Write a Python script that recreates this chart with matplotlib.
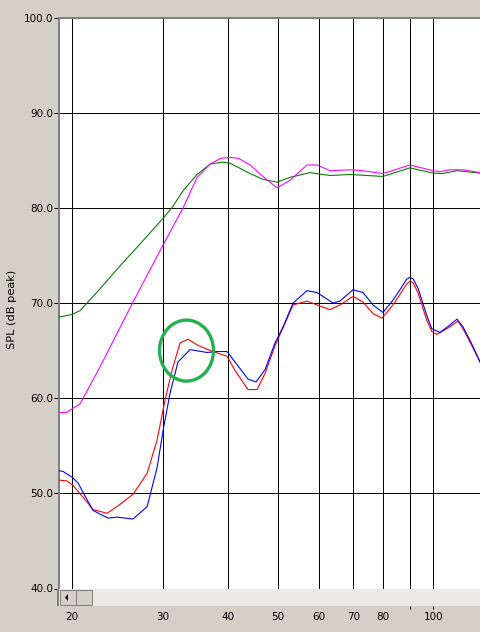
"""
SPL sweep screenshot recreation: four response curves on a log-frequency grid.
"""
import matplotlib
matplotlib.use("Agg")
import matplotlib.pyplot as plt
from matplotlib.patches import Ellipse, Rectangle, Polygon
from matplotlib.transforms import IdentityTransform, blended_transform_factory

plt.rcParams["font.family"] = ["DejaVu Sans"]

# ---- data (Hz, dB peak) ----
green_f = [18.79, 20.0, 20.73, 21.38, 22.66, 24.77, 27.07, 30.0, 31.2, 32.8, 34.9,
           37.0, 39.0, 40.4, 44.2, 46.8, 49.85, 52.8, 57.7, 63.1, 69.0, 79.9,
           90.1, 99.9, 104.0, 111.1, 123.1]
green_db = [68.5, 68.8, 69.2, 70.0, 71.5, 73.9, 76.2, 78.9, 80.0, 81.8, 83.5,
            84.6, 84.8, 84.7, 83.6, 83.0, 82.7, 83.2, 83.7, 83.4, 83.5, 83.3,
            84.2, 83.65, 83.6, 83.9, 83.65]

magenta_f = [18.79, 19.5, 20.73, 22.66, 24.54, 26.24, 30.0, 32.8, 34.9, 37.0,
             38.8, 40.4, 42.0, 44.2, 46.8, 49.85, 52.8, 56.96, 59.6, 63.1, 69.0,
             73.1, 79.9, 90.1, 99.9, 103.0, 107.7, 114.0, 123.1]
magenta_db = [58.5, 58.5, 59.4, 63.3, 67.0, 70.1, 76.1, 80.0, 83.2, 84.6,
              85.2, 85.3, 85.2, 84.5, 83.3, 82.1, 82.9, 84.5, 84.5, 83.9, 84.0,
              83.9, 83.6, 84.5, 83.9, 83.8, 84.0, 84.0, 83.7]

red_f = [18.79, 19.56, 20.1, 21.0, 21.96, 23.37, 24.43, 26.24, 27.94, 29.21,
         30.26, 31.21, 32.35, 33.53, 34.9, 36.98, 39.89, 41.34, 43.8, 45.6,
         47.25, 49.39, 53.54, 56.96, 59.56, 63.1, 65.98, 69.91, 73.09, 76.41,
         79.55, 83.54, 86.9, 88.8, 90.14, 91.5, 93.5, 95.0, 97.1, 99.3, 101.6,
         107.7, 111.6, 114.1, 117.7, 120.3, 123.1]
red_db = [51.4, 51.3, 50.8, 49.6, 48.3, 47.9, 48.6, 49.9, 52.1, 55.6,
          59.8, 62.9, 65.8, 66.2, 65.6, 65.0, 64.4, 62.9, 60.9, 60.9,
          62.6, 65.5, 69.8, 70.2, 69.8, 69.3, 69.8, 70.7, 70.1, 68.9,
          68.4, 69.8, 71.2, 72.0, 72.3, 72.1, 71.0, 69.8, 68.2, 67.0, 66.7,
          67.5, 68.1, 67.3, 65.9, 64.9, 63.8]

blue_f = [18.79, 19.21, 20.0, 20.54, 21.0, 21.96, 23.47, 24.43, 26.24, 27.94,
          29.21, 30.0, 30.94, 32.06, 33.83, 36.49, 38.15, 39.89, 41.34, 43.8,
          45.39, 47.25, 49.39, 51.2, 53.54, 56.96, 59.56, 63.95, 65.98, 69.91,
          73.09, 76.41, 79.9, 83.54, 86.9, 88.8, 90.14, 91.5, 93.5, 95.0, 97.1,
          99.3, 103.0, 107.7, 111.1, 114.1, 117.7, 120.3, 123.1]
blue_db = [52.4, 52.3, 51.7, 51.1, 50.1, 48.2, 47.4, 47.5, 47.3, 48.6,
           52.7, 56.6, 60.5, 63.8, 65.1, 64.8, 64.9, 64.9, 63.8, 62.0,
           61.7, 63.0, 65.8, 67.5, 70.0, 71.3, 71.1, 70.0, 70.2, 71.4,
           71.1, 69.8, 69.0, 70.3, 71.7, 72.5, 72.7, 72.5, 71.5, 70.3, 68.7,
           67.3, 66.9, 67.7, 68.3, 67.5, 66.1, 65.0, 63.8]

x_grid = [20, 30, 40, 50, 60, 70, 80, 90, 100]
x_labels = ["20", "30", "40", "50", "60", "70", "80", "", "100"]
y_ticks = [40, 50, 60, 70, 80, 90, 100]
x_range = (18.87, 123.1)
y_range = (40, 100)

# highlight circle (data centre)
circle_at = (33.3, 65.0)

BG = "#d4d0c8"
PX = 0.72  # one pixel in points at dpi=100

W, H = 480, 632
fig = plt.figure(figsize=(W / 100, H / 100), dpi=100, facecolor=BG)
ax = fig.add_axes([59 / W, 1 - 588.5 / H, (W - 59) / W, (588.5 - 17.5) / H])
ax.set_facecolor("white")
ax.set_xscale("log")
ax.set_xlim(*x_range)
ax.set_ylim(*y_range)

for v in y_ticks:
    ax.axhline(v, color="black", lw=PX, zorder=1)
for v in x_grid:
    ax.axvline(v, color="black", lw=PX, zorder=1)

ax.plot(green_f, green_db, color="#008000", lw=PX * 1.1, zorder=3)
ax.plot(magenta_f, magenta_db, color="#ff00ff", lw=PX * 1.1, zorder=3)
ax.plot(red_f, red_db, color="#ff0000", lw=PX * 1.1, zorder=3)
ax.plot(blue_f, blue_db, color="#0000ff", lw=PX * 1.1, zorder=3)

# ticks
ax.set_yticks(y_ticks)
ax.set_yticklabels([f"{v:.1f}" for v in y_ticks])
ax.tick_params(axis="y", length=5 * PX, width=PX, color="black", pad=0.5,
               labelsize=7.5, labelcolor="black")
ax.set_xticks(x_grid)
ax.set_xticklabels(x_labels)
ax.xaxis.set_minor_locator(matplotlib.ticker.NullLocator())
ax.tick_params(axis="x", length=0, pad=23 * PX, labelsize=7.5, labelcolor="black")

# frame: sunken look on left/top
ax.spines["right"].set_visible(False)
ax.spines["bottom"].set_color("black")
ax.spines["bottom"].set_linewidth(PX)
ax.spines["left"].set_color("#808080")
ax.spines["left"].set_linewidth(2 * PX)
ax.spines["top"].set_color("#808080")
ax.spines["top"].set_linewidth(2 * PX)


def fx(px):
    return px / W


def fy(py):
    return 1 - py / H


fig.text(fx(12.5), fy(309), "SPL (dB peak)", rotation=90, fontsize=8.2,
         ha="center", va="center")

# scrollbar under the plot
fig.add_artist(Rectangle((fx(57), fy(606)), (W - 57) / W, 17 / H,
                         transform=fig.transFigure, facecolor="#ebe9e5",
                         edgecolor="none"))
fig.add_artist(Rectangle((fx(57), fy(606)), 2 / W, 17 / H,
                         transform=fig.transFigure, facecolor="#808080",
                         edgecolor="none"))
for x0 in (60, 76):
    fig.add_artist(Rectangle((fx(x0), fy(605)), 16 / W, 15 / H,
                             transform=fig.transFigure, facecolor=BG,
                             edgecolor="#808080", lw=PX))
fig.add_artist(Polygon([(fx(65), fy(597.5)), (fx(68), fy(594)), (fx(68), fy(601))],
                       closed=True, transform=fig.transFigure,
                       facecolor="black", edgecolor="none"))

# tick marks below scrollbar for 90 and 100
trans = blended_transform_factory(ax.transData, ax.transAxes)
ax_h = 588.5 - 17.5
ax.vlines([90, 100], -(606 - 588.5) / ax_h, -(609 - 588.5) / ax_h,
          transform=trans, color="black", lw=PX, clip_on=False)

# green highlight ring
fig.canvas.draw()
cx, cy = ax.transData.transform(circle_at)
ring = Ellipse((cx, cy), 54, 61, transform=IdentityTransform(), fill=False,
               edgecolor="#22b14c", lw=3.3 * PX, zorder=5, clip_on=False)
ax.add_artist(ring)

fig.savefig("out.png", dpi=100, facecolor=BG)
plt.close(fig)
